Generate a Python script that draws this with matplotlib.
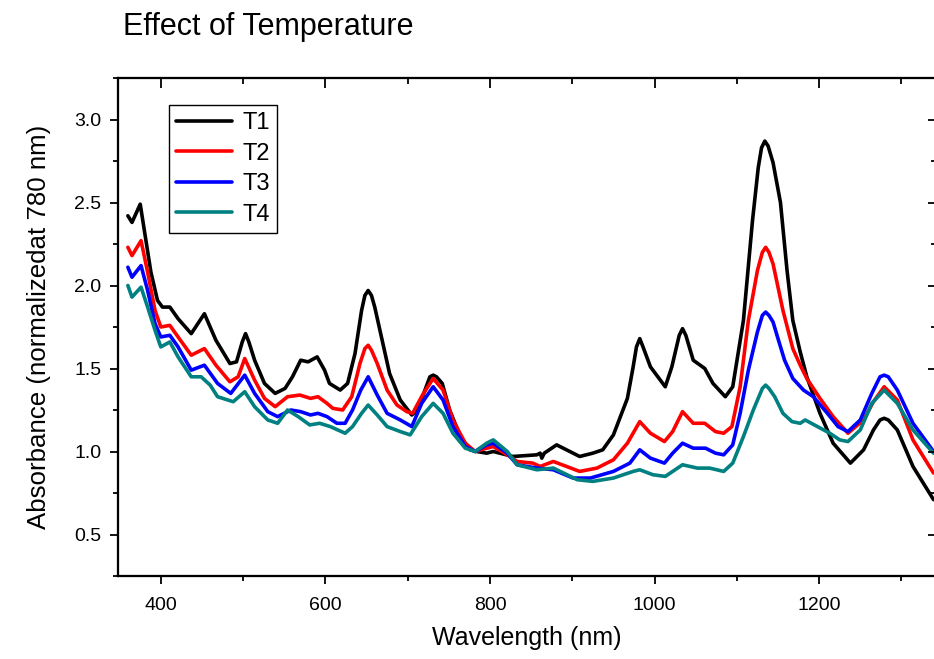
import matplotlib
matplotlib.use("Agg")
from matplotlib import pyplot as plt
from matplotlib.ticker import MultipleLocator

plt.rcParams['font.family'] = ['Liberation Sans', 'DejaVu Sans']

# (wavelength nm, normalised absorbance)
wl_t1 = [360, 365, 375, 388, 396, 402, 411, 421, 437, 453, 467, 484, 492, 499, 503, 507,
         514, 526, 539, 551, 560, 570, 579, 590, 599, 605, 618, 627, 636, 644, 648, 652,
         656, 660, 669, 678, 691, 705, 712, 721, 727, 731, 735, 742, 751, 764, 776, 784,
         796, 804, 828, 857, 861, 863, 866, 881, 909, 925, 937, 950, 967, 974, 978, 982,
         986, 995, 1013, 1021, 1030, 1034, 1038, 1047, 1061, 1071, 1086, 1095, 1108, 1119,
         1126, 1130, 1134, 1138, 1144, 1153, 1161, 1168, 1177, 1185, 1201, 1217, 1238,
         1254, 1266, 1274, 1279, 1284, 1295, 1314, 1339]
t1 = [2.42, 2.38, 2.49, 2.08, 1.91, 1.87, 1.87, 1.80, 1.71, 1.83, 1.67, 1.53, 1.54, 1.66,
      1.71, 1.66, 1.55, 1.41, 1.35, 1.38, 1.45, 1.55, 1.54, 1.57, 1.49, 1.41, 1.37, 1.41,
      1.59, 1.85, 1.94, 1.97, 1.94, 1.87, 1.67, 1.47, 1.31, 1.22, 1.25, 1.37, 1.45, 1.46,
      1.45, 1.41, 1.25, 1.09, 1.01, 1.00, 0.99, 1.00, 0.97, 0.98, 0.99, 0.96, 0.99, 1.04,
      0.97, 0.99, 1.01, 1.10, 1.32, 1.51, 1.63, 1.68, 1.63, 1.51, 1.39, 1.51, 1.70, 1.74,
      1.70, 1.55, 1.50, 1.41, 1.33, 1.39, 1.79, 2.39, 2.71, 2.83, 2.87, 2.84, 2.74, 2.50,
      2.09, 1.79, 1.60, 1.45, 1.23, 1.05, 0.93, 1.01, 1.13, 1.19, 1.20, 1.19, 1.13, 0.91,
      0.71]

wl_t2 = [360, 365, 376, 384, 393, 400, 411, 421, 437, 453, 467, 484, 494, 502, 514, 526,
         539, 554, 569, 582, 591, 602, 609, 621, 632, 642, 648, 652, 656, 663, 675, 687,
         699, 706, 718, 731, 743, 755, 770, 782, 796, 804, 821, 833, 852, 861, 877, 909,
         930, 950, 967, 982, 995, 1012, 1022, 1034, 1047, 1061, 1074, 1084, 1094, 1104,
         1114, 1125, 1131, 1135, 1139, 1144, 1156, 1168, 1177, 1185, 1201, 1217, 1235,
         1254, 1266, 1279, 1295, 1314, 1339]
t2 = [2.23, 2.18, 2.27, 2.08, 1.85, 1.75, 1.76, 1.69, 1.58, 1.62, 1.52, 1.42, 1.45, 1.56,
      1.43, 1.32, 1.27, 1.33, 1.34, 1.32, 1.33, 1.29, 1.26, 1.25, 1.33, 1.53, 1.62, 1.64,
      1.61, 1.53, 1.37, 1.28, 1.24, 1.23, 1.34, 1.44, 1.37, 1.19, 1.05, 1.00, 1.02, 1.03,
      0.98, 0.94, 0.93, 0.91, 0.94, 0.88, 0.90, 0.95, 1.05, 1.18, 1.11, 1.06, 1.12, 1.24,
      1.17, 1.17, 1.12, 1.11, 1.15, 1.39, 1.79, 2.09, 2.20, 2.23, 2.20, 2.13, 1.85, 1.62,
      1.52, 1.44, 1.32, 1.21, 1.11, 1.19, 1.30, 1.39, 1.31, 1.07, 0.87]

wl_t3 = [360, 365, 376, 384, 393, 400, 411, 421, 437, 453, 469, 485, 502, 514, 530, 542,
         558, 570, 582, 591, 602, 614, 624, 633, 643, 652, 663, 675, 691, 705, 717, 731,
         743, 755, 770, 782, 796, 804, 821, 833, 857, 877, 901, 922, 950, 970, 982, 995,
         1012, 1022, 1034, 1047, 1062, 1074, 1084, 1095, 1104, 1114, 1125, 1131, 1135,
         1139, 1144, 1150, 1158, 1168, 1181, 1193, 1210, 1223, 1235, 1250, 1264, 1274,
         1279, 1284, 1295, 1314, 1339]
t3 = [2.11, 2.05, 2.12, 1.97, 1.77, 1.69, 1.70, 1.63, 1.49, 1.52, 1.41, 1.35, 1.46, 1.35,
      1.24, 1.21, 1.25, 1.24, 1.22, 1.23, 1.21, 1.17, 1.17, 1.25, 1.37, 1.45, 1.34, 1.23,
      1.19, 1.15, 1.29, 1.39, 1.31, 1.15, 1.03, 1.00, 1.04, 1.05, 0.99, 0.92, 0.90, 0.89,
      0.84, 0.84, 0.88, 0.93, 1.01, 0.96, 0.93, 0.99, 1.05, 1.02, 1.02, 0.99, 0.98, 1.04,
      1.23, 1.49, 1.72, 1.82, 1.84, 1.82, 1.78, 1.68, 1.55, 1.44, 1.37, 1.33, 1.23, 1.15,
      1.12, 1.19, 1.35, 1.45, 1.46, 1.45, 1.37, 1.17, 1.00]

wl_t4 = [360, 365, 376, 384, 393, 400, 411, 421, 437, 449, 460, 469, 488, 502, 514, 530,
         542, 554, 567, 581, 593, 606, 624, 633, 644, 652, 663, 675, 691, 703, 717, 731,
         743, 755, 770, 782, 796, 804, 821, 833, 857, 877, 906, 925, 950, 974, 982, 998,
         1013, 1034, 1052, 1067, 1084, 1095, 1108, 1120, 1131, 1135, 1139, 1146, 1156,
         1167, 1177, 1183, 1198, 1213, 1225, 1235, 1250, 1264, 1279, 1295, 1314, 1339]
t4 = [2.00, 1.93, 1.99, 1.87, 1.73, 1.63, 1.66, 1.57, 1.45, 1.45, 1.40, 1.33, 1.30, 1.36,
      1.27, 1.19, 1.17, 1.25, 1.21, 1.16, 1.17, 1.15, 1.11, 1.15, 1.23, 1.28, 1.22, 1.15,
      1.12, 1.10, 1.21, 1.29, 1.23, 1.11, 1.02, 1.00, 1.05, 1.07, 1.00, 0.92, 0.89, 0.90,
      0.83, 0.82, 0.84, 0.88, 0.89, 0.86, 0.85, 0.92, 0.90, 0.90, 0.88, 0.93, 1.09, 1.25,
      1.38, 1.40, 1.38, 1.33, 1.23, 1.18, 1.17, 1.19, 1.15, 1.11, 1.07, 1.06, 1.13, 1.29,
      1.37, 1.29, 1.13, 0.99]

labels = ["T1", "T2", "T3", "T4"]
colors = ["black", "#ff0000", "#0000ff", "#008080"]

W, H = 934, 659
fig = plt.figure(figsize=(W / 100, H / 100), dpi=100)
ax = fig.add_axes([118 / W, (H - 576) / H, (936 - 118) / W, 498 / H])

for x, y, lab, c in zip([wl_t1, wl_t2, wl_t3, wl_t4], [t1, t2, t3, t4], labels, colors):
    ax.plot(x, y, color=c, lw=2.6, label=lab, solid_joinstyle='round', solid_capstyle='round')

ax.set_xlim(348, 1342)
ax.set_ylim(0.25, 3.25)
ax.xaxis.set_major_locator(MultipleLocator(200))
ax.xaxis.set_minor_locator(MultipleLocator(100))
ax.yaxis.set_major_locator(MultipleLocator(0.5))
ax.yaxis.set_minor_locator(MultipleLocator(0.25))
ax.yaxis.set_major_formatter(plt.FuncFormatter(lambda v, p: "%.1f" % v))

for s in ax.spines.values():
    s.set_linewidth(1.5)
ax.tick_params(which='both', direction='out', labelsize=14, width=1.3, top=False, right=False)
ax.tick_params(which='major', length=6)
ax.tick_params(which='minor', length=3.5)
ax.tick_params(axis='x', which='major', pad=9)
ax.tick_params(axis='y', which='major', pad=6)

# top / right inner ticks
axt = ax.twiny()
axt.set_xlim(ax.get_xlim())
axt.xaxis.set_major_locator(MultipleLocator(200))
axt.xaxis.set_minor_locator(MultipleLocator(100))
axt.tick_params(which='both', direction='in', labeltop=False, width=1.3)
axt.tick_params(which='major', length=7)
axt.tick_params(which='minor', length=4)
axr = ax.twinx()
axr.set_ylim(ax.get_ylim())
axr.yaxis.set_major_locator(MultipleLocator(0.5))
axr.yaxis.set_minor_locator(MultipleLocator(0.25))
axr.tick_params(which='both', direction='in', labelright=False, width=1.3)
axr.tick_params(which='major', length=6)
axr.tick_params(which='minor', length=3.5)
for a in (axt, axr):
    for s in a.spines.values():
        s.set_linewidth(1.5)

ax.set_xlabel("Wavelength (nm)", fontsize=18, labelpad=9)
ax.set_ylabel("Absorbance (normalizedat 780 nm)", fontsize=18.6, labelpad=17)

leg = ax.legend(loc='upper left', bbox_to_anchor=((169 - 118) / 818, (576 - 105) / 498),
                borderaxespad=0, fontsize=17, handlelength=2.35, labelspacing=0.36,
                handletextpad=0.45, fancybox=False, edgecolor='black', framealpha=1,
                borderpad=0.3)
leg.get_frame().set_linewidth(1.0)

fig.text(123 / W, (H - 35) / H, "Effect of Temperature", fontsize=22, va='baseline')

fig.savefig("out.png", dpi=100)
